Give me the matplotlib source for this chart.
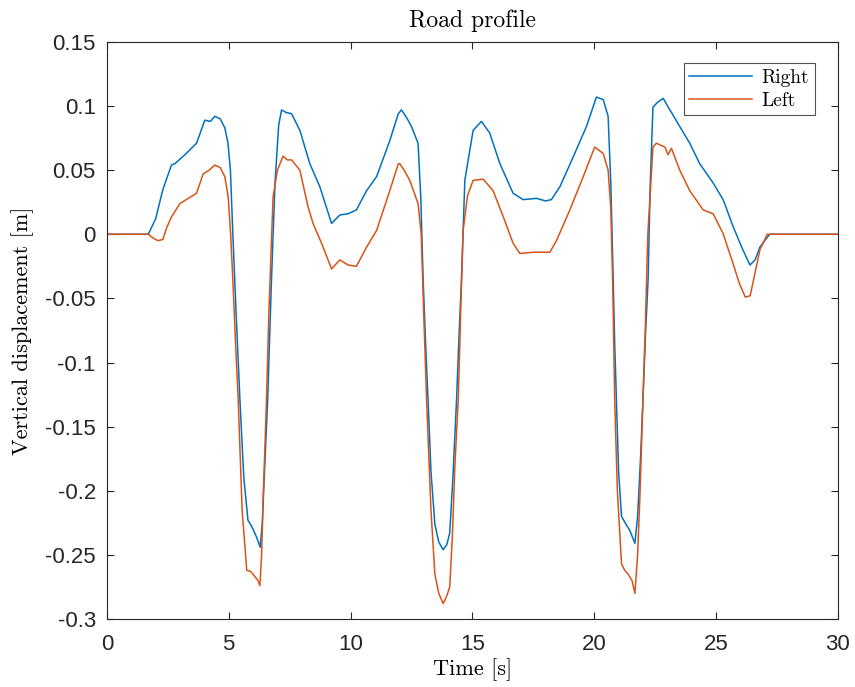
import matplotlib
matplotlib.use('Agg')
import matplotlib.pyplot as plt

# (time [s], displacement [m])
t_right = [0, 1.7, 2.0, 2.3, 2.65, 2.79, 3.2, 3.68, 4.02, 4.25, 4.43, 4.65, 4.84, 4.97,
           5.07, 5.17, 5.3, 5.46, 5.62, 5.79, 5.95, 6.14, 6.29, 6.38, 6.48, 6.6,
           6.68, 6.76, 6.9, 7.05, 7.17, 7.35, 7.58, 7.92, 8.33, 8.74, 9.22, 9.56,
           9.9, 10.24, 10.66, 11.07, 11.61, 11.96, 12.09, 12.3, 12.5, 12.77, 12.88,
           12.98, 13.08, 13.18, 13.3, 13.46, 13.62, 13.8, 13.95, 14.07, 14.2, 14.35,
           14.45, 14.55, 14.69, 15.03, 15.37, 15.71, 16.13, 16.67, 17.08, 17.63,
           18.0, 18.24, 18.59, 19.13, 19.68, 20.09, 20.37, 20.57, 20.68, 20.78,
           20.84, 20.91, 21.0, 21.12, 21.3, 21.46, 21.67, 21.78, 21.9, 22.0, 22.1,
           22.21, 22.3, 22.41, 22.6, 22.83, 23.1, 23.17, 23.51, 23.92, 24.33, 24.88,
           25.29, 25.7, 26.05, 26.39, 26.6, 26.8, 27.2, 30]
y_right = [0, 0, 0.012, 0.035, 0.054, 0.055, 0.062, 0.071, 0.089, 0.088, 0.092, 0.090,
           0.083, 0.071, 0.050, 0.0, -0.06, -0.129, -0.190, -0.223, -0.228, -0.236,
           -0.244, -0.225, -0.180, -0.129, -0.080, -0.033, 0.040, 0.085, 0.097,
           0.095, 0.094, 0.081, 0.055, 0.037, 0.0085, 0.015, 0.016, 0.019, 0.034,
           0.045, 0.073, 0.094, 0.097, 0.091, 0.084, 0.071, 0.030, -0.036, -0.085,
           -0.129, -0.185, -0.226, -0.240, -0.246, -0.242, -0.233, -0.190, -0.129,
           -0.080, -0.036, 0.042, 0.081, 0.088, 0.079, 0.055, 0.032, 0.027, 0.028,
           0.026, 0.027, 0.037, 0.060, 0.084, 0.107, 0.105, 0.092, 0.040, -0.036,
           -0.085, -0.129, -0.185, -0.220, -0.226, -0.231, -0.241, -0.220, -0.175,
           -0.129, -0.080, -0.036, 0.040, 0.099, 0.103, 0.106, 0.097, 0.095, 0.084,
           0.071, 0.055, 0.040, 0.027, 0.006, -0.010, -0.024, -0.020, -0.010, 0.0, 0]

t_left = [0, 1.7, 1.9, 2.1, 2.3, 2.45, 2.65, 3.0, 3.68, 3.95, 4.2, 4.43, 4.65, 4.84,
          4.98, 5.08, 5.18, 5.28, 5.39, 5.55, 5.74, 5.9, 6.08, 6.2, 6.28, 6.35, 6.41,
          6.48, 6.55, 6.65, 6.82, 7.0, 7.23, 7.4, 7.58, 7.92, 8.26, 8.47, 8.81, 9.22,
          9.56, 9.9, 10.24, 10.66, 11.07, 11.61, 11.96, 12.02, 12.2, 12.43, 12.77,
          12.9, 13.0, 13.12, 13.3, 13.46, 13.62, 13.8, 13.95, 14.07, 14.18, 14.28,
          14.42, 14.52, 14.62, 14.8, 15.03, 15.44, 15.85, 16.27, 16.67, 16.95, 17.5,
          18.18, 18.45, 19.0, 19.55, 20.02, 20.37, 20.57, 20.68, 20.76, 20.84, 20.95,
          21.12, 21.25, 21.39, 21.55, 21.67, 21.78, 21.87, 22.0, 22.1, 22.2, 22.41,
          22.55, 22.9, 23.03, 23.17, 23.51, 23.92, 24.47, 24.88, 25.29, 25.7, 25.95,
          26.2, 26.4, 26.6, 26.8, 27.1, 30]
y_left = [0, 0, -0.003, -0.005, -0.004, 0.005, 0.0135, 0.024, 0.032, 0.047, 0.050,
          0.054, 0.052, 0.045, 0.029, 0.0, -0.040, -0.085, -0.129, -0.215, -0.262,
          -0.263, -0.267, -0.270, -0.274, -0.250, -0.207, -0.170, -0.129, -0.060,
          0.029, 0.050, 0.061, 0.058, 0.058, 0.050, 0.021, 0.008, -0.007, -0.027,
          -0.020, -0.024, -0.025, -0.010, 0.003, 0.034, 0.055, 0.055, 0.050, 0.042,
          0.024, 0.0, -0.060, -0.129, -0.215, -0.265, -0.280, -0.288, -0.282,
          -0.275, -0.235, -0.181, -0.129, -0.060, 0.003, 0.030, 0.042, 0.043, 0.034,
          0.0135, -0.007, -0.015, -0.014, -0.014, -0.005, 0.019, 0.045, 0.068, 0.063,
          0.050, 0.020, -0.040, -0.129, -0.200, -0.257, -0.262, -0.265, -0.270,
          -0.280, -0.250, -0.207, -0.129, -0.070, 0.000, 0.068, 0.071, 0.068, 0.062,
          0.067, 0.050, 0.034, 0.019, 0.016, 0.0005, -0.023, -0.038, -0.049, -0.048,
          -0.030, -0.012, 0.0, 0]

x_ticks = [0, 5, 10, 15, 20, 25, 30]
y_ticks = [-0.3, -0.25, -0.2, -0.15, -0.1, -0.05, 0, 0.05, 0.1, 0.15]
y_tick_labels = ['-0.3', '-0.25', '-0.2', '-0.15', '-0.1', '-0.05', '0', '0.05', '0.1', '0.15']

serif = 'cmr10'
plt.rcParams['font.family'] = ['Liberation Sans', 'DejaVu Sans']

fig = plt.figure(figsize=(8.55, 6.87), dpi=100)
ax = fig.add_axes([0.125, 0.099, 0.855, 0.840])

ax.plot(t_right, y_right, color='#0072BD', lw=1.1, label='Right')
ax.plot(t_left, y_left, color='#D95319', lw=1.1, label='Left')

ax.set_xlim(0, 30)
ax.set_ylim(-0.3, 0.15)
ax.set_xticks(x_ticks)
ax.set_yticks(y_ticks)
ax.set_yticklabels(y_tick_labels)
ax.tick_params(direction='in', top=True, right=True, labelsize=16,
               colors='#262626', length=5, width=0.8)
ax.tick_params(axis='x', pad=11)
ax.tick_params(axis='y', pad=8)
for s in ax.spines.values():
    s.set_color('#262626')
    s.set_linewidth(0.8)

ax.set_title('Road profile', family=serif, fontsize=17, pad=11)
ax.set_xlabel('Time [s]', family=serif, fontsize=16, labelpad=2)
ax.set_ylabel('Vertical displacement [m]', family=serif, fontsize=16, labelpad=8)

leg = ax.legend(loc='upper right', prop={'family': serif, 'size': 14},
                fancybox=False, edgecolor='#262626', handlelength=3.2,
                handletextpad=0.5, borderpad=0.3, labelspacing=0.25,
                borderaxespad=0, bbox_to_anchor=(0.9685, 0.9636))
leg.get_frame().set_linewidth(0.8)

fig.savefig('out.png', dpi=100)
